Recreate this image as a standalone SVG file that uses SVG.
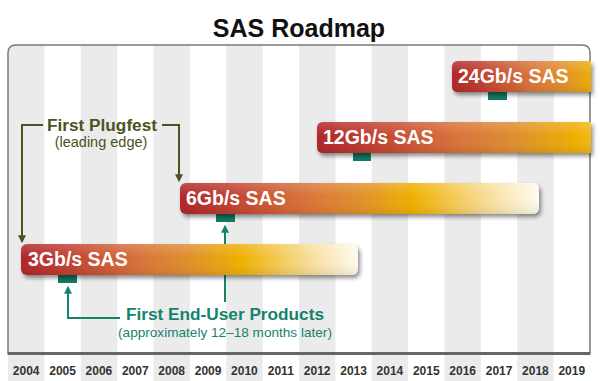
<svg xmlns="http://www.w3.org/2000/svg" width="600" height="381" viewBox="0 0 600 381">
  <defs>
    <style>
      .stripe { fill: #ebebeb; }
      .year { font-family: "Liberation Sans", Arial, sans-serif; font-size: 12px; font-weight: bold; fill: #333333; text-anchor: middle; }
      .barlabel { font-family: "Liberation Sans", Arial, sans-serif; font-size: 19.5px; font-weight: bold; fill: #ffffff; }
      .tab { fill: #127a66; }
      .olive { stroke: #4b5320; stroke-width: 2; fill: none; }
      .teal { stroke: #14836c; stroke-width: 2; fill: none; }
      .olivetext { font-family: "Liberation Sans", Arial, sans-serif; fill: #4b5320; text-anchor: middle; }
      .tealtext { font-family: "Liberation Sans", Arial, sans-serif; fill: #14836c; text-anchor: middle; }
    </style>
    <clipPath id="frameClip">
      <path d="M8,381 V53 Q8,45 16,45 H582 Q590,45 590,53 V381 Z"/>
    </clipPath>
    <linearGradient id="barGrad" x1="0" y1="0" x2="1" y2="0">
      <stop offset="0" stop-color="#b1252a"/>
      <stop offset="0.12" stop-color="#bf3b2f"/>
      <stop offset="0.35" stop-color="#d8723a"/>
      <stop offset="0.5" stop-color="#e08f2c"/>
      <stop offset="0.65" stop-color="#efb000"/>
      <stop offset="0.85" stop-color="#f8dc95"/>
      <stop offset="1" stop-color="#fffbef"/>
    </linearGradient>
    <linearGradient id="barGrad12" gradientUnits="userSpaceOnUse" x1="317" y1="0" x2="717" y2="0" xlink:href="#barGrad" xmlns:xlink="http://www.w3.org/1999/xlink"/>
    <linearGradient id="barGrad24" gradientUnits="userSpaceOnUse" x1="452" y1="0" x2="672" y2="0" xlink:href="#barGrad" xmlns:xlink="http://www.w3.org/1999/xlink"/>
    <linearGradient id="gloss" x1="0" y1="0" x2="0" y2="1">
      <stop offset="0" stop-color="#ffffff" stop-opacity="0.18"/>
      <stop offset="0.45" stop-color="#ffffff" stop-opacity="0"/>
      <stop offset="1" stop-color="#000000" stop-opacity="0.08"/>
    </linearGradient>
    <filter id="shadow" x="-10%" y="-30%" width="120%" height="180%">
      <feDropShadow dx="2" dy="3" stdDeviation="2" flood-color="#000000" flood-opacity="0.45"/>
    </filter>
    <marker id="arrowOlive" viewBox="0 0 10 10" refX="6" refY="5" markerWidth="8" markerHeight="8" markerUnits="userSpaceOnUse" orient="auto">
      <path d="M0,0 L10,5 L0,10 Z" fill="#4b5320"/>
    </marker>
    <marker id="arrowTeal" viewBox="0 0 10 10" refX="6" refY="5" markerWidth="8" markerHeight="8" markerUnits="userSpaceOnUse" orient="auto">
      <path d="M0,0 L10,5 L0,10 Z" fill="#14836c"/>
    </marker>
  </defs>

  <rect x="0" y="0" width="600" height="381" fill="#ffffff"/>

  <g id="title">
    <text x="299" y="37" font-family="Liberation Sans, Arial, sans-serif" font-size="25" font-weight="bold" fill="#111111" text-anchor="middle">SAS Roadmap</text>
  </g>

  <g id="grid" clip-path="url(#frameClip)">
    <rect class="stripe" x="8" y="45" width="36.4" height="336"/>
    <rect class="stripe" x="80.75" y="45" width="36.4" height="336"/>
    <rect class="stripe" x="153.5" y="45" width="36.4" height="336"/>
    <rect class="stripe" x="226.25" y="45" width="36.4" height="336"/>
    <rect class="stripe" x="299" y="45" width="36.4" height="336"/>
    <rect class="stripe" x="371.75" y="45" width="36.4" height="336"/>
    <rect class="stripe" x="444.5" y="45" width="36.4" height="336"/>
    <rect class="stripe" x="517.25" y="45" width="36.4" height="336"/>
  </g>

  <g id="frame">
    <path d="M8,353 V53 Q8,45 16,45 H582 Q590,45 590,53 V353" fill="none" stroke="#7a7a7a" stroke-width="1.5"/>
    <line x1="7.5" y1="353.5" x2="590.5" y2="353.5" stroke="#666666" stroke-width="3"/>
  </g>

  <g id="years">
    <text class="year" x="26.2" y="375">2004</text>
    <text class="year" x="62.6" y="375">2005</text>
    <text class="year" x="98.9" y="375">2006</text>
    <text class="year" x="135.3" y="375">2007</text>
    <text class="year" x="171.7" y="375">2008</text>
    <text class="year" x="208.1" y="375">2009</text>
    <text class="year" x="244.4" y="375">2010</text>
    <text class="year" x="280.8" y="375">2011</text>
    <text class="year" x="317.2" y="375">2012</text>
    <text class="year" x="353.6" y="375">2013</text>
    <text class="year" x="389.9" y="375">2014</text>
    <text class="year" x="426.3" y="375">2015</text>
    <text class="year" x="462.7" y="375">2016</text>
    <text class="year" x="499.1" y="375">2017</text>
    <text class="year" x="535.4" y="375">2018</text>
    <text class="year" x="571.8" y="375">2019</text>
  </g>

  <g id="connectors">
    <path class="olive" d="M43,125 H22 V240" marker-end="url(#arrowOlive)"/>
    <path class="olive" d="M162,125 H179 V179" marker-end="url(#arrowOlive)"/>
    <path class="teal" d="M120,318 H68 V289" marker-end="url(#arrowTeal)"/>
    <path class="teal" d="M225,302 V228" marker-end="url(#arrowTeal)"/>
  </g>

  <g id="bar-3gb">
    <rect class="tab" x="58" y="272" width="19" height="11"/>
    <rect x="21" y="244" width="337" height="31" rx="6" fill="url(#barGrad)" filter="url(#shadow)"/>
    <rect x="21" y="244" width="337" height="31" rx="6" fill="url(#gloss)"/>
    <text class="barlabel" x="28" y="266">3Gb/s SAS</text>
  </g>

  <g id="bar-6gb">
    <rect class="tab" x="216" y="211" width="19" height="11"/>
    <rect x="180" y="183" width="359" height="31" rx="6" fill="url(#barGrad)" filter="url(#shadow)"/>
    <rect x="180" y="183" width="359" height="31" rx="6" fill="url(#gloss)"/>
    <text class="barlabel" x="186" y="205">6Gb/s SAS</text>
  </g>

  <g id="bar-12gb">
    <rect class="tab" x="353" y="150" width="18" height="11"/>
    <path d="M323,122 H591 V153 H323 Q317,153 317,147 V128 Q317,122 323,122 Z" fill="url(#barGrad12)" filter="url(#shadow)"/>
    <path d="M323,122 H591 V153 H323 Q317,153 317,147 V128 Q317,122 323,122 Z" fill="url(#gloss)"/>
    <text class="barlabel" x="323" y="144">12Gb/s SAS</text>
  </g>

  <g id="bar-24gb">
    <rect class="tab" x="488" y="89" width="19" height="11"/>
    <path d="M458,61 H591 V92 H458 Q452,92 452,86 V67 Q452,61 458,61 Z" fill="url(#barGrad24)" filter="url(#shadow)"/>
    <path d="M458,61 H591 V92 H458 Q452,92 452,86 V67 Q452,61 458,61 Z" fill="url(#gloss)"/>
    <text class="barlabel" x="458" y="83">24Gb/s SAS</text>
  </g>

  <g id="label-plugfest">
    <text class="olivetext" x="102" y="131" font-size="16" font-weight="bold" textLength="110" lengthAdjust="spacingAndGlyphs">First Plugfest</text>
    <text class="olivetext" x="101" y="147" font-size="14.5">(leading edge)</text>
  </g>

  <g id="label-enduser">
    <text class="tealtext" x="225" y="320" font-size="16" font-weight="bold" textLength="198" lengthAdjust="spacingAndGlyphs">First End-User Products</text>
    <text class="tealtext" x="225" y="337" font-size="13.6">(approximately 12–18 months later)</text>
  </g>
</svg>
